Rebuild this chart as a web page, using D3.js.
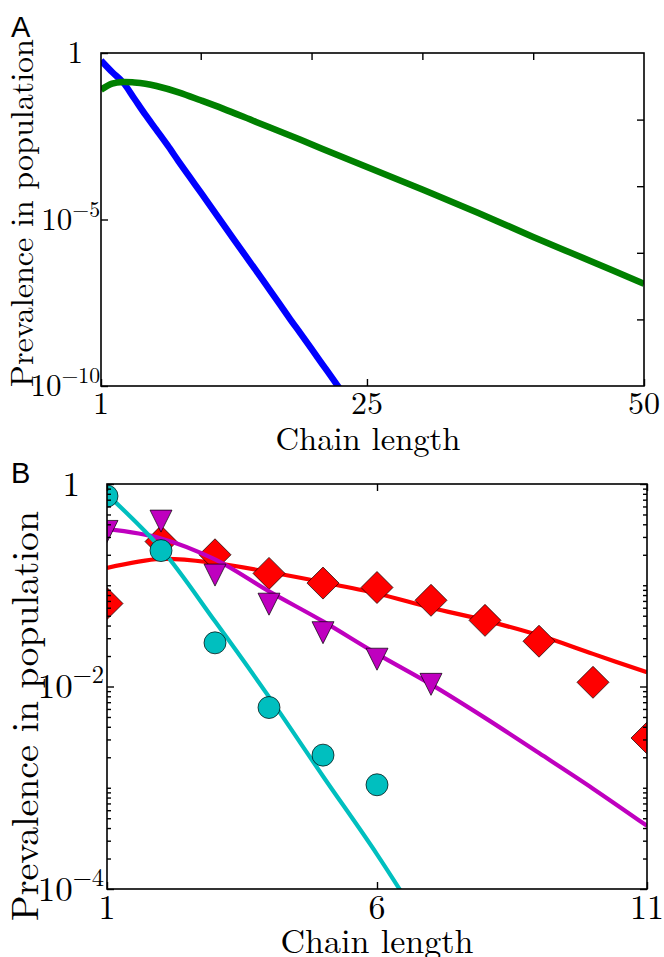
<!DOCTYPE html>
<html>
<head>
<meta charset="utf-8">
<script src="https://cdnjs.cloudflare.com/ajax/libs/d3/7.8.5/d3.min.js"></script>
<style>
  body { margin: 0; background: #fff; }
</style>
</head>
<body>
<script>
// ---- panel A data ----
const lenBlue = [1,2,3,4,5,6,7,8,9,10,11,12,13,14,15,16,17,18,19,20,21,22,23];
const prevBlue = [6.0e-1,2.7e-1,1.3e-1,4.3e-2,1.4e-2,4.9e-3,1.7e-3,5.6e-4,1.9e-4,6.5e-5,2.2e-5,7.4e-6,
  2.5e-6,8.5e-7,2.9e-7,9.8e-8,3.3e-8,1.1e-8,3.8e-9,1.3e-9,4.4e-10,1.5e-10,5.0e-11];
const lenGreen = [1,2,3,4,5,6,8,10,12,15,18,21,25,30,35,40,45,50];
const prevGreen = [7.9e-2,1.2e-1,1.35e-1,1.3e-1,1.19e-1,1.02e-1,6.6e-2,3.8e-2,2.14e-2,8.5e-3,3.4e-3,1.3e-3,
  3.8e-4,7.9e-5,1.6e-5,3.0e-6,6.0e-7,1.17e-7];
const xTicksA = [1, 25, 50];
const xTicksATop = [10, 20, 30, 40];
const yTicksA = [1, 1e-5, 1e-10];
const yLabelsA = [["1", ""], ["10", "\u22125"], ["10", "\u221210"]];
const yTicksARight = [1e-2, 1e-4, 1e-6, 1e-8];

// ---- panel B data ----
const lenB = [1,2,3,4,5,6,7,8,9,10,11];
const lineRed = [0.148,0.182,0.166,0.135,0.107,0.083,0.060,0.045,0.032,0.021,0.0138];
const lineMagenta = [0.36,0.29,0.18,0.087,0.044,0.021,0.0105,4.9e-3,2.2e-3,9.8e-4,4.2e-4];
const lineCyan = [0.79,0.23,0.044,7.9e-3,1.3e-3,2.2e-4,3.2e-5];
const ptsRed = [0.066,0.27,0.2,0.131,0.105,0.095,0.071,0.045,0.028,0.011,0.0031];
const ptsMagenta = [0.34,0.43,0.126,0.065,0.034,0.0186,0.0105];
const ptsCyan = [0.76,0.22,0.027,0.0062,0.0021,0.00107];
const xTicksB = [1, 6, 11];
const yTicksB = [1, 1e-2, 1e-4];
const yLabelsB = [["1", ""], ["10", "\u22122"], ["10", "\u22124"]];

const serif = "'Latin Modern Roman', 'Liberation Serif', serif";

const svg = d3.select("body").append("svg")
  .attr("width", 664).attr("height", 957)
  .style("font-family", serif);

function fit(sel, len) {
  const w = sel.node().getComputedTextLength();
  sel.attr("font-size", (+sel.attr("font-size")) * len / w);
}

function frame(g, x, y, id) {
  const [x0, x1] = x.range(), [y1, y0] = y.range();
  g.append("clipPath").attr("id", id).append("rect")
    .attr("x", x0).attr("y", y0).attr("width", x1 - x0).attr("height", y1 - y0);
  return g.append("g").attr("clip-path", "url(#" + id + ")");
}

function border(g, x, y) {
  const [x0, x1] = x.range(), [y1, y0] = y.range();
  g.append("rect").attr("x", x0).attr("y", y0).attr("width", x1 - x0).attr("height", y1 - y0)
    .attr("fill", "none").attr("stroke", "#000").attr("stroke-width", 1.6);
}

function ticks(g, axis, tx, ty, vals, size) {
  const a = g.append("g").attr("transform", "translate(" + tx + "," + ty + ")")
    .call(axis.tickValues(vals).tickSize(size).tickFormat(""));
  a.select(".domain").remove();
  a.selectAll("line").attr("stroke", "#000").attr("stroke-width", 1.4);
}

function yLabel(g, x, yv, lab, fs) {
  const t = g.append("text").attr("x", x).attr("y", yv + fs * 0.33)
    .attr("text-anchor", "end").attr("font-size", fs);
  t.append("tspan").text(lab[0]);
  if (lab[1]) t.append("tspan").attr("dy", -fs * 0.42).attr("font-size", fs * 0.7).text(lab[1]);
}

// ================= Panel A =================
const gA = svg.append("g");
const xA = d3.scaleLinear().domain([1, 50]).range([101, 644]);
const yA = d3.scaleLog().domain([1e-10, 1]).range([386, 53]);
const plotA = frame(gA, xA, yA, "clipA");

const lineA = d3.line().curve(d3.curveCatmullRom);
plotA.append("path")
  .attr("d", lineA(lenBlue.map((d, i) => [xA(d), yA(prevBlue[i])])))
  .attr("fill", "none").attr("stroke", "#0000ff").attr("stroke-width", 6.5);
plotA.append("path")
  .attr("d", lineA(lenGreen.map((d, i) => [xA(d), yA(prevGreen[i])])))
  .attr("fill", "none").attr("stroke", "#008000").attr("stroke-width", 6.5);

border(gA, xA, yA);
ticks(gA, d3.axisBottom(xA), 0, 386, xTicksA, -7);
ticks(gA, d3.axisTop(xA), 0, 53, xTicksATop, -7);
ticks(gA, d3.axisLeft(yA), 101, 0, yTicksA, -7);
ticks(gA, d3.axisRight(yA), 644, 0, yTicksARight, -7);

xTicksA.forEach(v => gA.append("text").attr("x", xA(v)).attr("y", 414)
  .attr("text-anchor", "middle").attr("font-size", 32).text(v));
yTicksA.forEach((v, i) => yLabel(gA, yLabelsA[i][1] ? 100 : 83, yA(v), yLabelsA[i], 31));

const xlabA = gA.append("text").attr("x", 368).attr("y", 450)
  .attr("text-anchor", "middle").attr("font-size", 30).text("Chain length");
fit(xlabA, 185);
const ylabA = gA.append("text").attr("transform", "translate(33,213) rotate(-90)")
  .attr("text-anchor", "middle").attr("font-size", 30).text("Prevalence in population");
fit(ylabA, 348);
gA.append("text").attr("x", 11).attr("y", 37).attr("font-size", 29)
  .style("font-family", "'Liberation Sans', Arial, sans-serif").text("A");

// ================= Panel B =================
const gB = svg.append("g");
const xB = d3.scaleLinear().domain([1, 11]).range([107, 647]);
const yB = d3.scaleLog().domain([1e-4, 1]).range([889, 484]);
const plotB = frame(gB, xB, yB, "clipB");
const lineB = d3.line().curve(d3.curveCatmullRom);

const series = [
  { line: lineRed, pts: ptsRed, color: "#ff0000", shape: "diamond" },
  { line: lineMagenta, pts: ptsMagenta, color: "#bf00bf", shape: "tri" },
  { line: lineCyan, pts: ptsCyan, color: "#00bfbf", shape: "circle" }
];

function marker(shape) {
  if (shape === "circle") return "M11,0A11,11,0,1,1,-11,0A11,11,0,1,1,11,0Z";
  if (shape === "diamond") return "M0,-16L16,0L0,16L-16,0Z";
  return "M-11,-11L11,-11L0,11Z";
}

series.forEach(s => {
  plotB.append("path")
    .attr("d", lineB(s.line.map((d, i) => [xB(lenB[i]), yB(d)])))
    .attr("fill", "none").attr("stroke", s.color).attr("stroke-width", 4.2);
  plotB.selectAll(null).data(s.pts).join("path")
    .attr("transform", (d, i) => "translate(" + xB(lenB[i]) + "," + yB(d) + ")")
    .attr("d", marker(s.shape))
    .attr("fill", s.color).attr("stroke", "#000").attr("stroke-width", 0.7);
});

border(gB, xB, yB);
const minorB = yB.ticks().filter(v => !yTicksB.includes(v));
ticks(gB, d3.axisBottom(xB), 0, 889, xTicksB, -7);
ticks(gB, d3.axisTop(xB), 0, 484, xTicksB, -7);
ticks(gB, d3.axisLeft(yB), 107, 0, yTicksB, -7);
ticks(gB, d3.axisRight(yB), 647, 0, yTicksB, -7);
ticks(gB, d3.axisLeft(yB), 107, 0, minorB, -4);
ticks(gB, d3.axisRight(yB), 647, 0, minorB, -4);

xTicksB.forEach(v => gB.append("text").attr("x", xB(v)).attr("y", 919)
  .attr("text-anchor", "middle").attr("font-size", 34).text(v));
yTicksB.forEach((v, i) => yLabel(gB, yLabelsB[i][1] ? 104 : 80, yB(v), yLabelsB[i], 35));

const xlabB = gB.append("text").attr("x", 377).attr("y", 953)
  .attr("text-anchor", "middle").attr("font-size", 30).text("Chain length");
fit(xlabB, 193);
const ylabB = gB.append("text").attr("transform", "translate(38,716) rotate(-90)")
  .attr("text-anchor", "middle").attr("font-size", 30).text("Prevalence in population");
fit(ylabB, 410);
gB.append("text").attr("x", 11).attr("y", 483).attr("font-size", 29)
  .style("font-family", "'Liberation Sans', Arial, sans-serif").text("B");
</script>
</body>
</html>
